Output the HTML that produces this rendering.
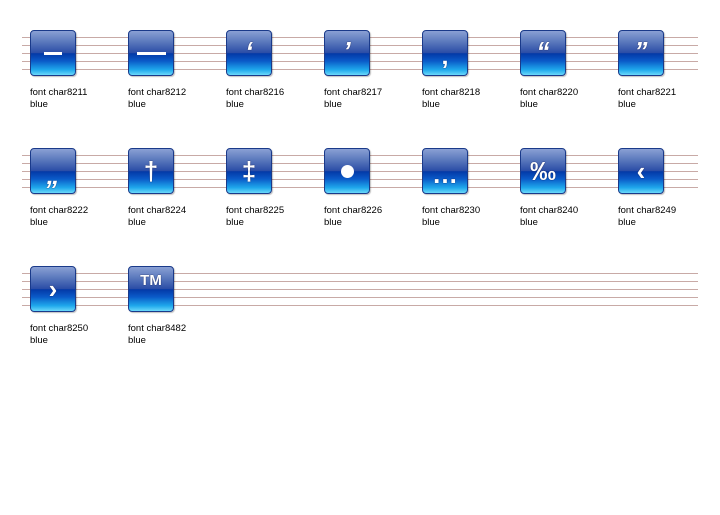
<!DOCTYPE html>
<html><head><style>
body{margin:0;width:720px;height:515px;background:#fff;position:relative;overflow:hidden;font-family:"Liberation Sans",sans-serif}
.ln{position:absolute;left:22px;width:676px;height:1px;background:#c8aaa6}
.ic{position:absolute;width:44px;height:44px;border:1px solid #1a3a8a;border-radius:4px;overflow:hidden;
background:linear-gradient(#8aa0d4 0%,#5a78bc 25%,#2a4ca6 50%,#0338a6 51%,#0a5ac8 68%,#1fa8ec 88%,#6ad8fa 100%);
box-shadow:1px 1px 1px rgba(0,0,0,.25)}
.g{position:absolute;left:0;right:0;top:0;bottom:0;color:#fff;font-weight:bold;text-align:center;font-size:26px;line-height:44px;text-shadow:0 0 1px #003}
.lb{position:absolute;font-size:9.5px;line-height:12px;color:#000}
</style></head><body>
<div class="ln" style="top:37px"></div><div class="ln" style="top:45px"></div><div class="ln" style="top:53px"></div><div class="ln" style="top:61px"></div><div class="ln" style="top:69px"></div>
<div class="ln" style="top:155px"></div><div class="ln" style="top:163px"></div><div class="ln" style="top:171px"></div><div class="ln" style="top:179px"></div><div class="ln" style="top:187px"></div>
<div class="ln" style="top:273px"></div><div class="ln" style="top:281px"></div><div class="ln" style="top:289px"></div><div class="ln" style="top:297px"></div><div class="ln" style="top:305px"></div>

<div class="ic" style="left:30px;top:30px"><div style="position:absolute;left:13px;top:21px;width:18px;height:3px;background:#fff"></div></div>
<div class="lb" style="left:30px;top:87px">font char8211<br>blue</div>
<div class="ic" style="left:128px;top:30px"><div style="position:absolute;left:8px;top:21px;width:29px;height:3px;background:#fff"></div></div>
<div class="lb" style="left:128px;top:87px">font char8212<br>blue</div>
<div class="ic" style="left:226px;top:30px"><div class="g" style="top:-2px;font-style:italic">‘</div></div>
<div class="lb" style="left:226px;top:87px">font char8216<br>blue</div>
<div class="ic" style="left:324px;top:30px"><div class="g" style="top:-2px;font-style:italic">’</div></div>
<div class="lb" style="left:324px;top:87px">font char8217<br>blue</div>
<div class="ic" style="left:422px;top:30px"><div class="g" style="top:2px">‚</div></div>
<div class="lb" style="left:422px;top:87px">font char8218<br>blue</div>
<div class="ic" style="left:520px;top:30px"><div class="g" style="top:-2px;font-style:italic">“</div></div>
<div class="lb" style="left:520px;top:87px">font char8220<br>blue</div>
<div class="ic" style="left:618px;top:30px"><div class="g" style="top:-2px;font-style:italic">”</div></div>
<div class="lb" style="left:618px;top:87px">font char8221<br>blue</div>

<div class="ic" style="left:30px;top:148px"><div class="g" style="top:4px;font-style:italic">„</div></div>
<div class="lb" style="left:30px;top:205px">font char8222<br>blue</div>
<div class="ic" style="left:128px;top:148px"><div class="g">†</div></div>
<div class="lb" style="left:128px;top:205px">font char8224<br>blue</div>
<div class="ic" style="left:226px;top:148px"><div class="g">‡</div></div>
<div class="lb" style="left:226px;top:205px">font char8225<br>blue</div>
<div class="ic" style="left:324px;top:148px"><div style="position:absolute;left:16px;top:16px;width:13px;height:13px;border-radius:50%;background:#fff"></div></div>
<div class="lb" style="left:324px;top:205px">font char8226<br>blue</div>
<div class="ic" style="left:422px;top:148px"><div class="g" style="top:3px">…</div></div>
<div class="lb" style="left:422px;top:205px">font char8230<br>blue</div>
<div class="ic" style="left:520px;top:148px"><div class="g" style="font-size:26px">‰</div></div>
<div class="lb" style="left:520px;top:205px">font char8240<br>blue</div>
<div class="ic" style="left:618px;top:148px"><div class="g">‹</div></div>
<div class="lb" style="left:618px;top:205px">font char8249<br>blue</div>

<div class="ic" style="left:30px;top:266px"><div class="g">›</div></div>
<div class="lb" style="left:30px;top:323px">font char8250<br>blue</div>
<div class="ic" style="left:128px;top:266px"><div class="g" style="font-size:15px;top:-8px">TM</div></div>
<div class="lb" style="left:128px;top:323px">font char8482<br>blue</div>
</body></html>
